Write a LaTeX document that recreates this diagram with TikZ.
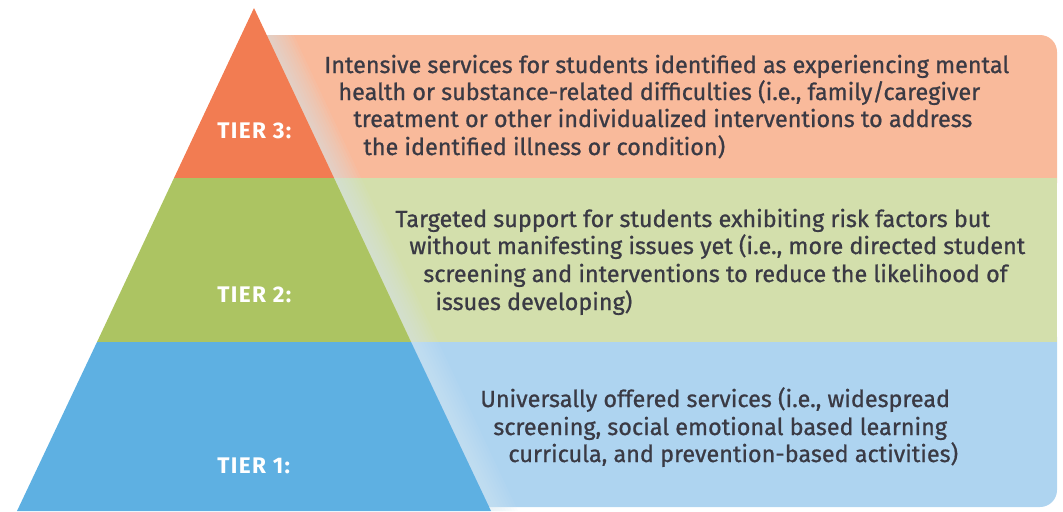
\documentclass[tikz,border=0pt]{standalone}
\usepackage{fontspec}
\setmainfont{Fira Sans}
\newfontfamily\bandfont{Fira Sans}[FakeBold=0.8]
\newfontfamily\tierfont{Fira Sans}[LetterSpace=6]
\usepackage{tikz}
\usetikzlibrary{positioning,calc}
\definecolor{tierthree}{RGB}{242,124,82}
\definecolor{tierthreelight}{RGB}{249,186,155}
\definecolor{tiertwo}{RGB}{172,196,98}
\definecolor{tiertwolight}{RGB}{211,223,172}
\definecolor{tierone}{RGB}{94,176,226}
\definecolor{tieronelight}{RGB}{174,212,240}
\definecolor{textgray}{RGB}{58,58,68}
\definecolor{glow}{RGB}{214,232,240}
\tikzstyle{tierlabel} = [text=white, font=\tierfont\fontsize{11.3}{13}\selectfont\bfseries,
    inner sep=0pt, anchor=base west]
\tikzstyle{bandline} = [text=textgray, font=\bandfont\fontsize{11.7}{13}\selectfont,
    inner sep=0pt, anchor=base west]

\begin{document}
\begin{tikzpicture}[x=0.5pt, y=-0.5pt]
    \useasboundingbox (0,0) rectangle (1063,511);
    % Pyramid corners
    \coordinate (apex) at (254,8);
    \coordinate (l3) at (174,178);
    \coordinate (r3) at (334,178);
    \coordinate (l2) at (97,342);
    \coordinate (r2) at (411,342);
    \coordinate (l1) at (17,511);
    \coordinate (r1) at (491,511);
    % Bands behind the pyramid
    \fill[tierthreelight, rounded corners=8.5pt] (250,35) rectangle (1057,200);
    \fill[tieronelight, rounded corners=8.5pt] (250,320) rectangle (1057,507);
    \fill[tiertwolight] (250,178) rectangle (1057,342);
    % Soft edge along the pyramid
    \begin{scope}
        \clip (250,35) rectangle (1057,511);
        \foreach \d in {3,6,...,27}
            \fill[glow, opacity=0.08] (apex) -- ++(\d,0) -- ($(r1)+(\d,0)$) -- (r1) -- cycle;
    \end{scope}
    % Pyramid
    \fill[tierthree] (apex) -- (r3) -- (l3) -- cycle;
    \fill[tiertwo] (l3) -- (r3) -- (r2) -- (l2) -- cycle;
    \fill[tierone] (l2) -- (r2) -- (r1) -- (l1) -- cycle;
    % Place nodes
    \node[tierlabel] (tier3) at (217,138) {TIER 3:};
    \node[tierlabel] (tier2) at (217,302) {TIER 2:};
    \node[tierlabel] (tier1) at (217,473) {TIER 1:};
    \node[bandline] (t3a) at (324,73) {Intensive services for students identified as experiencing mental};
    \node[bandline] (t3b) at (338,100) {health or substance-related difficulties (i.e., family/caregiver};
    \node[bandline] (t3c) at (353,127) {treatment or other individualized interventions to address};
    \node[bandline] (t3d) at (363,155) {the identified illness or condition)};
    \node[bandline] (t2a) at (395,227) {Targeted support for students exhibiting risk factors but};
    \node[bandline] (t2b) at (409,254) {without manifesting issues yet (i.e., more directed student};
    \node[bandline] (t2c) at (423,282) {screening and interventions to reduce the likelihood of};
    \node[bandline] (t2d) at (435,310) {issues developing)};
    \node[bandline] (t1a) at (480,407) {Universally offered services (i.e., widespread};
    \node[bandline] (t1b) at (493,435) {screening, social emotional based learning};
    \node[bandline] (t1c) at (508,462) {curricula, and prevention-based activities)};
\end{tikzpicture}
\end{document}
